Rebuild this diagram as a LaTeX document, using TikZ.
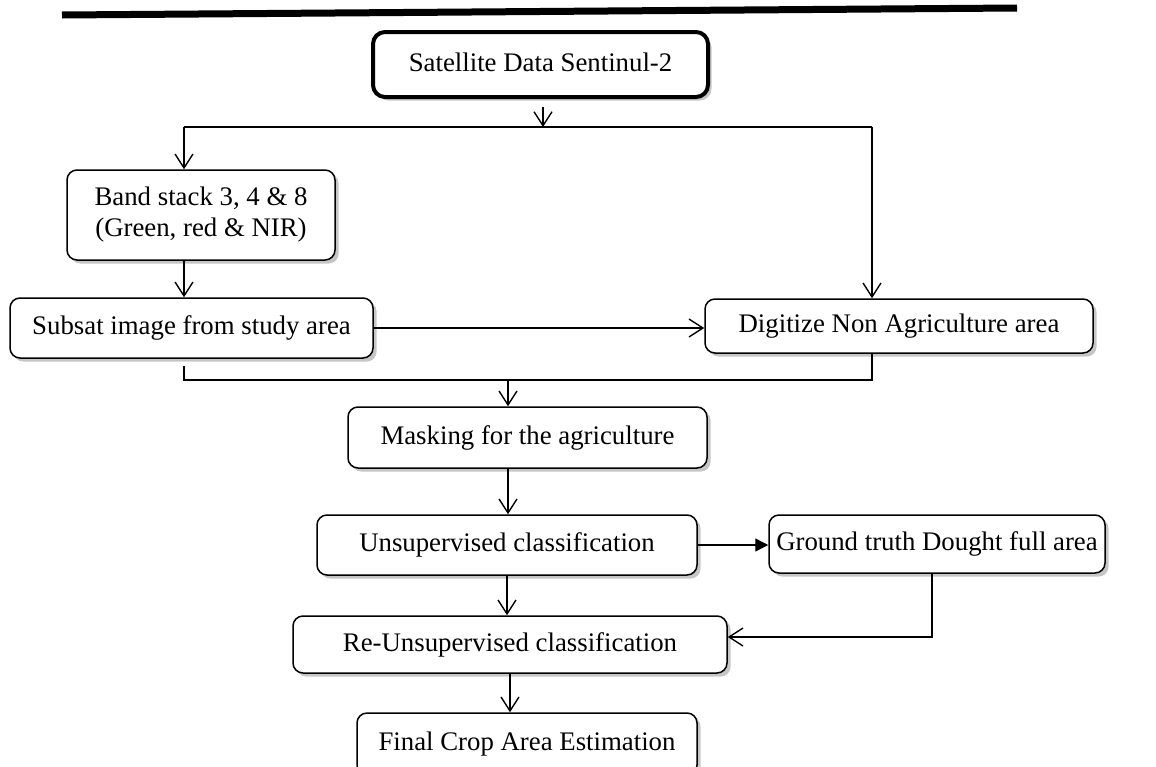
\documentclass[tikz,border=0pt]{standalone}
\usepackage{fontspec}
\setmainfont{Liberation Serif}
\usepackage{tikz}
\usetikzlibrary{arrows.meta, shadows, calc}
\tikzset{>={Straight Barb[length=7pt,width=9pt]}, font=\fontsize{13.4}{15.5}\selectfont}
\tikzset{box/.style={shape=rectangle, draw, rounded corners=5pt, fill=white,
    line width=.75pt, align=center, inner sep=1mm,
    drop shadow={shadow xshift=1.8pt, shadow yshift=-1.8pt, opacity=.45}}}
\tikzset{flow/.style={->, line width=.7pt}}
\tikzset{solid tip/.style={-{Triangle[length=6.5pt,width=6.5pt]}, line width=.7pt}}

\begin{document}
\begin{tikzpicture}[x=.5pt,y=-.5pt]
    \useasboundingbox (0,0) rectangle (1156,766);
    \clip (0,0) rectangle (1156,766);
    \draw[line width=3.5pt] (62,15) -- (1017,8);
    \node[box, line width=2pt, rounded corners=6pt, minimum width=167.5pt,
      minimum height=32.5pt] (sat) at (540.5,64.5)
      {\raisebox{2pt}{Satellite Data Sentinul-2}};
    \node[box, minimum width=134pt, minimum height=45pt] (band) at (201,215)
      {Band stack 3, 4 \& 8\\(Green, red \& NIR)};
    \node[box, minimum width=181.5pt, minimum height=30pt] (subsat) at (191.5,328)
      {Subsat image from study area};
    \node[box, minimum width=194pt, minimum height=27pt] (digit) at (899,326)
      {Digitize Non Agriculture area};
    \node[box, minimum width=179.5pt, minimum height=30.5pt] (mask) at (527.5,437.5)
      {Masking for the agriculture};
    \node[box, minimum width=190pt, minimum height=30pt] (unsup) at (507,545)
      {Unsupervised classification};
    \node[box, minimum width=168pt, minimum height=29pt] (ground) at (937,544)
      {Ground truth Dought full area};
    \node[box, minimum width=217pt, minimum height=28.5pt] (reun) at (510,644.5)
      {Re-Unsupervised classification};
    \node[box, minimum width=170pt, minimum height=31pt] (final) at (527,744)
      {\raisebox{3pt}{Final Crop Area Estimation}};
    \coordinate (split) at (543,127);
    \coordinate (splitL) at (184,127);
    \coordinate (splitR) at (872,127);
    \coordinate (merge) at (508,380);
    \coordinate (mergeL) at (184,380);
    \coordinate (mergeR) at (872,380);
    \coordinate (back) at (932,637);
    \draw[flow, shorten <=4pt] (sat.south -| split) -- (split);
    \draw[line width=.7pt] (splitL) -- (splitR);
    \draw[flow] (splitL) -- (splitL |- band.north);
    \draw[flow] (splitR) -- (splitR |- digit.north);
    \draw[flow] (splitL |- band.south) -- (splitL |- subsat.north);
    \draw[flow] (subsat.east) -- (subsat.east -| digit.west);
    \draw[line width=.7pt, shorten <=3.5pt] (splitL |- subsat.south) -- (mergeL)
      -- (mergeR) -- (splitR |- digit.south);
    \draw[flow] (merge) -- (merge |- mask.north);
    \draw[flow] (merge |- mask.south) -- (merge |- unsup.north);
    \draw[solid tip] (unsup.east) -- (unsup.east -| ground.west);
    \draw[flow] (unsup.south) -- (unsup.south |- reun.north);
    \draw[flow] (back |- ground.south) -- (back) -- (back -| reun.east);
    \draw[flow] (reun.south) -- (reun.south |- final.north);
\end{tikzpicture}
\end{document}
